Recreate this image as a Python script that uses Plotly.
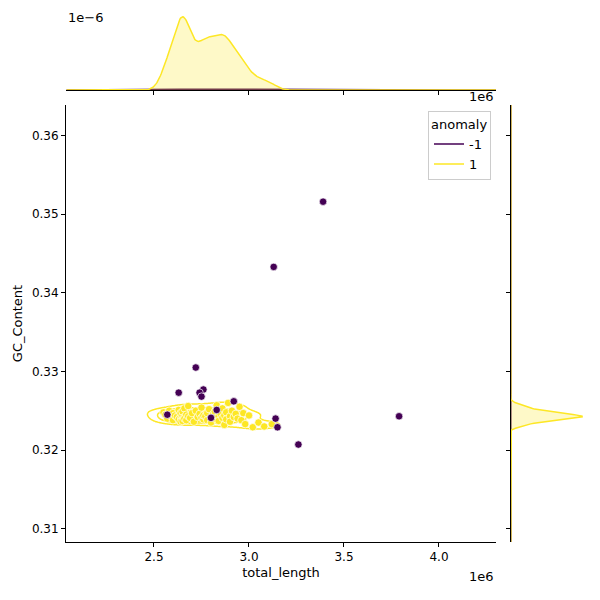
import numpy as np
import plotly.graph_objects as go

# normal points (anomaly = 1), total_length in units of 1e6
norm_x = [2.55,2.56,2.57,2.58,2.59,2.60,2.60,2.61,
          2.62,2.63,2.63,2.64,2.64,2.64,2.65,2.65,2.65,2.65,2.66,2.66,2.66,2.67,2.67,2.68,2.68,2.69,2.70,
          2.71,2.72,2.73,2.74,2.75,2.75,2.76,2.76,
          2.77,2.78,2.78,2.79,2.80,2.80,2.81,2.82,2.82,2.83,2.84,2.84,2.85,2.86,2.86,2.87,2.87,2.88,2.88,2.89,2.90,2.90,2.91,2.92,2.93,
          2.94,2.95,2.96,2.97,2.98,3.00,3.02,3.05,3.08,3.12]
norm_y = [0.3248,0.3245,0.3240,0.3250,0.3243,0.3238,0.3247,0.3244,
          0.3242,0.3251,0.3239,0.3243,0.3247,0.3236,0.3241,0.3244,0.3249,0.3237,0.3242,0.3253,0.3240,0.3245,0.3238,0.3243,0.3256,0.3241,0.3247,
          0.3236,0.3250,0.3242,0.3246,0.3241,0.3254,0.3239,0.3244,
          0.3243,0.3247,0.3238,0.3252,0.3242,0.3235,0.3245,0.3249,0.3240,0.3257,0.3243,0.3237,0.3246,0.3241,0.3253,0.3244,0.3232,0.3248,0.3239,0.3260,0.3243,0.3236,0.3250,0.3242,0.3246,
          0.3240,0.3255,0.3238,0.3247,0.3233,0.3244,0.3229,0.3235,0.3230,0.3233]
# anomalies (anomaly = -1)
anom_x = [3.39,3.13,2.72,2.63,2.76,2.74,2.75,3.79,3.14,3.15,3.26,2.83,2.57,2.92,2.80]
anom_y = [0.3516,0.3433,0.3305,0.3273,0.3277,0.3273,0.3268,0.3243,0.3240,0.3229,0.3207,0.3251,0.3245,0.3262,0.3241]
anom_share = 0.03  # share of anomalies in the full dataset

PURPLE = "#440154"
YELLOW = "#fde725"
FILL_Y = "rgba(253,231,37,0.25)"
FILL_P = "rgba(68,1,84,0.25)"

def kde1(data, grid, adj=1.0):
    d = np.asarray(data)
    bw = adj * d.std(ddof=1) * len(d) ** (-1 / 5)
    z = (grid[:, None] - d[None, :]) / bw
    return np.exp(-0.5 * z ** 2).sum(1) / (len(d) * bw * np.sqrt(2 * np.pi))

wN, wA = 1 - anom_share, anom_share
X_N = np.array(norm_x) * 1e6
X_A = np.array(anom_x) * 1e6
gx = np.linspace(2.04e6, 4.3e6, 600)
gy = np.linspace(0.3083, 0.3639, 800)
dxN = kde1(X_N, gx, 0.6) * wN
dxA = kde1(X_A, gx) * wA
dyN = kde1(norm_y, gy, 0.7) * wN
dyA = kde1(anom_y, gy) * wA

sx = X_N.std(ddof=1) * len(X_N) ** (-1 / 6)
sy = np.std(norm_y, ddof=1) * len(X_N) ** (-1 / 6)
cx = np.linspace(2.4e6, 3.3e6, 160)
cy = np.linspace(0.321, 0.328, 160)
GX, GY = np.meshgrid(cx, cy)
Z = np.zeros_like(GX)
for a, b in zip(X_N, norm_y):
    Z += np.exp(-0.5 * (((GX - a) / sx) ** 2 + ((GY - b) / sy) ** 2))
Z /= Z.max()

fig = go.Figure()
fig.add_trace(go.Contour(x=cx, y=cy, z=Z, contours=dict(coloring="lines", start=0.1, end=0.9, size=0.2),
                         colorscale=[[0, YELLOW], [1, YELLOW]], line=dict(width=1.5), showscale=False,
                         hoverinfo="skip", showlegend=False))
fig.add_trace(go.Scatter(x=X_N, y=norm_y, mode="markers", showlegend=False,
                         marker=dict(color=YELLOW, size=7.5, line=dict(color="white", width=0.7))))
fig.add_trace(go.Scatter(x=X_A, y=anom_y, mode="markers", showlegend=False,
                         marker=dict(color=PURPLE, size=7.5, line=dict(color="white", width=0.7))))
fig.add_trace(go.Scatter(x=[None], y=[None], mode="lines", name="-1", line=dict(color=PURPLE, width=1.5)))
fig.add_trace(go.Scatter(x=[None], y=[None], mode="lines", name="1", line=dict(color=YELLOW, width=1.5)))

fig.add_trace(go.Scatter(x=gx, y=dxA, mode="lines", fill="tozeroy", fillcolor=FILL_P, line=dict(color=PURPLE, width=1.5),
                         xaxis="x2", yaxis="y2", showlegend=False))
fig.add_trace(go.Scatter(x=gx, y=dxN, mode="lines", fill="tozeroy", fillcolor=FILL_Y, line=dict(color=YELLOW, width=1.5),
                         xaxis="x2", yaxis="y2", showlegend=False))
fig.add_trace(go.Scatter(x=dyA, y=gy, mode="lines", fill="tozerox", fillcolor=FILL_P, line=dict(color=PURPLE, width=1.5),
                         xaxis="x3", yaxis="y3", showlegend=False))
fig.add_trace(go.Scatter(x=dyN, y=gy, mode="lines", fill="tozerox", fillcolor=FILL_Y, line=dict(color=YELLOW, width=1.5),
                         xaxis="x3", yaxis="y3", showlegend=False))

font = dict(family="DejaVu Sans", size=12, color="black")
xr = [2.037e6, 4.30e6]
yr = [0.3083, 0.3639]
XD = [0.0967, 0.8133]
YD = [0.11, 0.8383]
common = dict(showgrid=False, zeroline=False, showline=True, linecolor="black", ticks="outside",
              ticklen=4, tickcolor="black", tickfont=font, automargin=False)
fig.update_layout(
    width=600, height=600, margin=dict(l=0, r=0, t=0, b=0, autoexpand=False),
    plot_bgcolor="white", paper_bgcolor="white", font=font,
    xaxis=dict(domain=XD, range=xr, tickvals=[2.5e6, 3e6, 3.5e6, 4e6],
               ticktext=["2.5", "3.0", "3.5", "4.0"],
               title=dict(text="total_length", font=dict(size=13), standoff=4), **common),
    yaxis=dict(domain=YD, range=yr, tickvals=[0.31, 0.32, 0.33, 0.34, 0.35, 0.36],
               tickformat=".2f", title=dict(text="GC_Content", font=dict(size=13), standoff=6), **common),
    xaxis2=dict(domain=XD, range=xr, anchor="y2", tickvals=[2.5e6, 3e6, 3.5e6, 4e6],
                showticklabels=False, **common),
    yaxis2=dict(domain=[0.8633, 1.0], range=[0, dxN.max() * 1.12], anchor="x2", showline=False,
                showticklabels=False, showgrid=False, zeroline=False),
    xaxis3=dict(domain=[0.838, 0.983], range=[0, dyN.max() * 1.22], anchor="y3", showline=False,
                showticklabels=False, showgrid=False, zeroline=False),
    yaxis3=dict(domain=YD, range=yr, anchor="x3", tickvals=[0.31, 0.32, 0.33, 0.34, 0.35, 0.36],
                showticklabels=False, **common),
    legend=dict(x=0.805, y=0.828, xanchor="right", yanchor="top", bgcolor="white", bordercolor="#cccccc",
                borderwidth=1, title=dict(text="anomaly", font=dict(size=13)), font=dict(size=13)),
    annotations=[
        dict(text="1e−6", x=0.0967, y=1.0, xref="paper", yref="paper", xanchor="left", yanchor="top",
             showarrow=False, font=dict(size=13)),
        dict(text="1e6", x=0.8133, y=0.852, xref="paper", yref="paper", xanchor="right", yanchor="middle",
             showarrow=False, font=dict(size=13)),
        dict(text="1e6", x=0.8133, y=0.052, xref="paper", yref="paper", xanchor="right", yanchor="middle",
             showarrow=False, font=dict(size=13)),
    ],
)
fig.write_html("out.html")
